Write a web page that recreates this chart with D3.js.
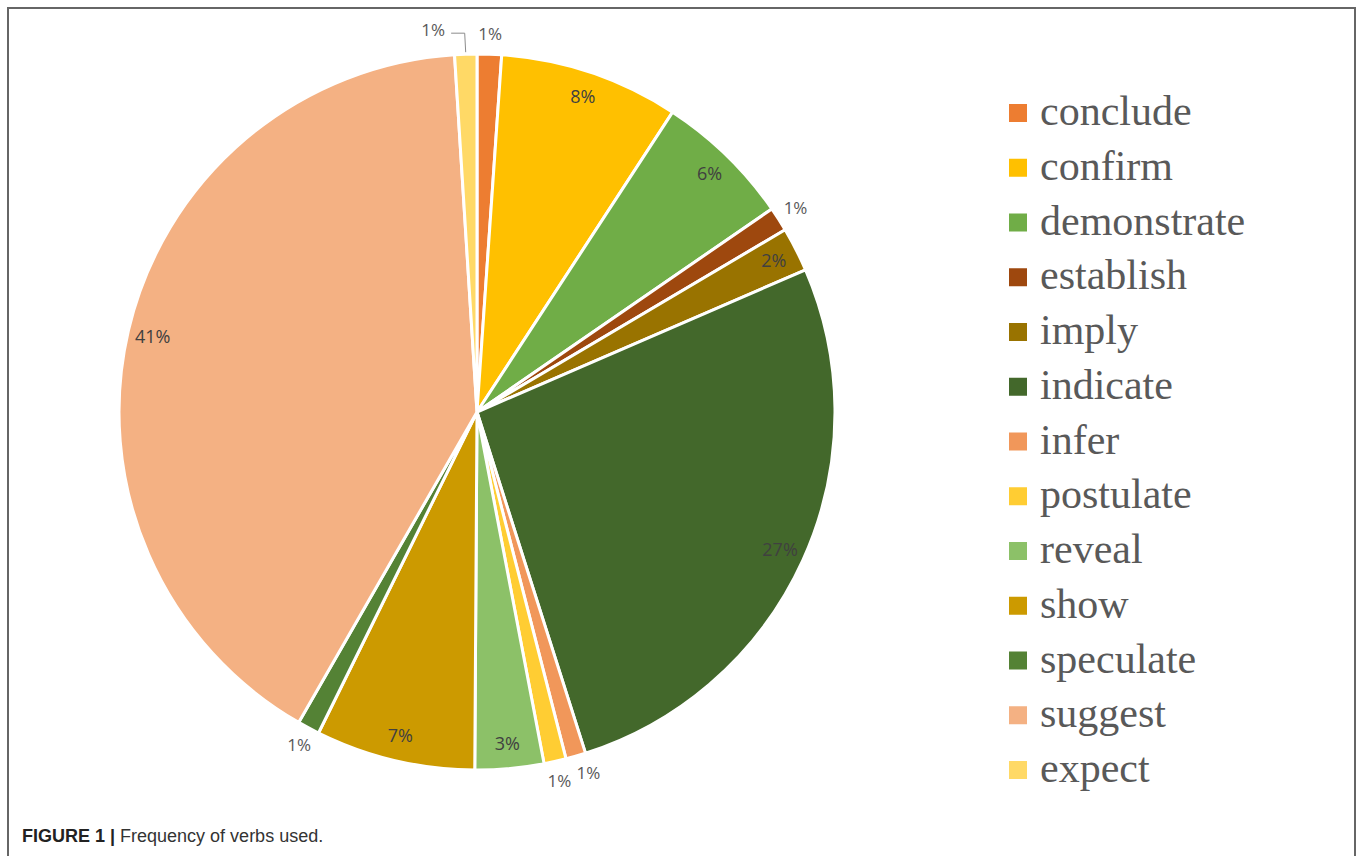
<!DOCTYPE html>
<html>
<head>
<meta charset="utf-8">
<script src="https://cdn.jsdelivr.net/npm/d3@7"></script>
<style>
  body { margin: 0; background: #fff; }
  svg { display: block; }
</style>
</head>
<body>
<svg id="chart" width="1358" height="856"></svg>
<script>
// verbs, clockwise from 12 o'clock
var verbs = ["conclude", "confirm", "demonstrate", "establish", "imply", "indicate", "infer",
             "postulate", "reveal", "show", "speculate", "suggest", "expect"];
var shares = [1.1, 8.1, 6.2, 1.1, 2.0, 26.6, 0.9, 1.0, 3.1, 7.2, 1.0, 40.7, 1.0];
var colors = ["#ED7D31", "#FFC000", "#70AD47", "#9E480E", "#997300", "#43682B", "#F1975A",
              "#FFCD33", "#8CC168", "#CC9A00", "#548235", "#F4B183", "#FFD966"];

var svg = d3.select("#chart"),
    cx = 477, cy = 412, radius = 358;

var total = d3.sum(shares);
var data = verbs.map(function (v, i) { return { verb: v, value: shares[i], color: colors[i] }; });

// frame
svg.append("path")
    .attr("d", "M8,856 V8 H1355 V856")
    .attr("fill", "none")
    .attr("stroke", "#666")
    .attr("stroke-width", 2);

var pie = d3.pie().sort(null).value(function (d) { return d.value; });
var arc = d3.arc().innerRadius(0).outerRadius(radius);
var labelIn = d3.arc().innerRadius(333).outerRadius(333);
var labelOut = d3.arc().innerRadius(378).outerRadius(378);

var g = svg.append("g").attr("transform", "translate(" + cx + "," + cy + ")");
var arcs = pie(data);

g.selectAll(".slice")
    .data(arcs)
    .enter().append("path")
    .attr("class", "slice")
    .attr("d", arc)
    .attr("fill", function (d) { return d.data.color; })
    .attr("stroke", "#fff")
    .attr("stroke-width", 3)
    .attr("stroke-linejoin", "round");

function pct(d) { return Math.round(d.data.value / total * 100) + "%"; }
function small(d) { return d.data.value < 1.5; }

// inside labels
g.selectAll(".lab-in")
    .data(arcs.filter(function (d) { return !small(d); }))
    .enter().append("text")
    .attr("class", "lab-in")
    .attr("transform", function (d) { return "translate(" + labelIn.centroid(d) + ")"; })
    .attr("text-anchor", "middle")
    .attr("dy", "0.35em")
    .style("font-family", "'Open Sans', sans-serif")
    .style("font-size", "18px")
    .style("fill", "#404040")
    .text(pct);

// outside labels (expect is pushed left with a leader line, infer nudged right)
g.selectAll(".lab-out")
    .data(arcs.filter(small))
    .enter().append("text")
    .attr("class", "lab-out")
    .attr("transform", function (d) {
        var p = labelOut.centroid(d);
        if (d.data.verb === "expect") p = [p[0] - 32, p[1] - 4];
        if (d.data.verb === "infer") p = [p[0] + 7, p[1] - 2];
        return "translate(" + p + ")";
    })
    .attr("text-anchor", "middle")
    .attr("dy", "0.35em")
    .style("font-family", "'Open Sans', sans-serif")
    .style("font-size", "17px")
    .style("fill", "#595959")
    .text(pct);

var exp = arcs[arcs.length - 1];
var ep = labelOut.centroid(exp);
var edge = d3.arc().innerRadius(radius + 2).outerRadius(radius + 2).centroid(exp);
g.append("path")
    .attr("d", "M" + (ep[0] - 14) + "," + (ep[1] - 1) + " H" + (edge[0] - 1) + " L" + edge[0] + "," + edge[1])
    .attr("fill", "none")
    .attr("stroke", "#8c8c8c")
    .attr("stroke-width", 1);

// legend
var legend = svg.append("g").attr("transform", "translate(1009,125)");
var row = legend.selectAll(".row")
    .data(data)
    .enter().append("g")
    .attr("class", "row")
    .attr("transform", function (d, i) { return "translate(0," + (i * 54.75) + ")"; });

row.append("rect")
    .attr("x", 0).attr("y", -21)
    .attr("width", 18).attr("height", 18)
    .attr("fill", function (d) { return d.color; });

row.append("text")
    .attr("x", 31)
    .style("font-family", "'Liberation Serif', 'Times New Roman', serif")
    .style("font-size", "42px")
    .style("fill", "#595959")
    .text(function (d) { return d.verb; });

// caption
var cap = svg.append("text")
    .attr("x", 22).attr("y", 842)
    .style("font-family", "'Liberation Sans', Arial, sans-serif")
    .style("font-size", "18px")
    .style("fill", "#222");
cap.append("tspan").style("font-weight", "bold").text("FIGURE 1 | ");
cap.append("tspan").style("fill", "#333").text("Frequency of verbs used.");
</script>
</body>
</html>
